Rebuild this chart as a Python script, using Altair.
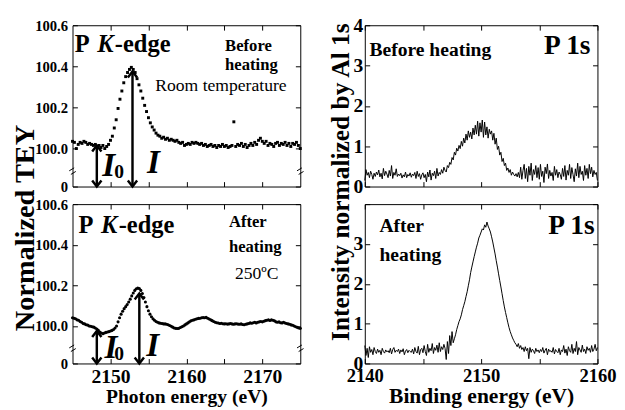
import altair as alt
import pandas as pd

FONT = "Liberation Serif"

# ---------------- data ----------------
# P K-edge TEY, before heating: 0.25 eV steps from 2145 eV
tey_before_start, tey_before_step = 2145.0, 0.25
tey_before = [
    100.035, 100.030, 100.000, 100.020, 100.030, 100.025, 100.035, 100.030,
    100.020, 100.025, 100.020, 100.015, 100.020, 100.010, 100.015, 100.005,
    100.015, 100.000, 100.010, 100.020, 100.040, 100.060, 100.100, 100.140,
    100.195, 100.240, 100.280, 100.320, 100.350, 100.370, 100.385, 100.395,
    100.385, 100.370, 100.340, 100.310, 100.280, 100.245, 100.210, 100.180,
    100.150, 100.125, 100.105, 100.090, 100.075, 100.065, 100.060, 100.050,
    100.055, 100.045, 100.050, 100.040, 100.045, 100.040, 100.035, 100.040,
    100.030, 100.025, 100.030, 100.015, 100.020, 100.025, 100.020, 100.030,
    100.025, 100.030, 100.025, 100.020, 100.025, 100.015, 100.020, 100.010,
    100.015, 100.020, 100.010, 100.015, 100.005, 100.015, 100.010, 100.020,
    100.010, 100.015, 100.005, 100.010, 100.015, 100.130, 100.010, 100.020,
    100.015, 100.025, 100.010, 100.020, 100.005, 100.015, 100.025, 100.015,
    100.030, 100.020, 100.040, 100.050, 100.035, 100.025, 100.035, 100.015,
    100.025, 100.020, 100.010, 100.025, 100.030, 100.015, 100.025, 100.020,
    100.030, 100.015, 100.025, 100.010, 100.025, 100.020, 100.030, 100.015,
    100.000,
]

# P K-edge TEY, after heating (250 C): 0.2 eV steps from 2145 eV
tey_after_start, tey_after_step = 2145.0, 0.2
tey_after = [
    100.040, 100.038, 100.035, 100.030, 100.028, 100.022, 100.018, 100.012, 100.010, 100.006,
    100.004, 100.000, 99.998, 99.996, 99.994, 99.990, 99.985, 99.978, 99.970, 99.965,
    99.962, 99.965, 99.968, 99.970, 99.972, 99.975, 99.978, 99.982, 99.990, 100.000,
    100.020, 100.040, 100.058, 100.072, 100.085, 100.095, 100.105, 100.118, 100.132, 100.148,
    100.162, 100.175, 100.183, 100.186, 100.184, 100.175, 100.160, 100.140, 100.118, 100.095,
    100.075, 100.058, 100.045, 100.035, 100.028, 100.022, 100.018, 100.015, 100.013, 100.012,
    100.010, 100.010, 100.008, 100.006, 100.002, 99.998, 99.994, 99.990, 99.988, 99.987,
    99.988, 99.992, 99.996, 100.000, 100.005, 100.010, 100.015, 100.020, 100.025, 100.028,
    100.030, 100.033, 100.035, 100.037, 100.038, 100.040, 100.041, 100.040, 100.042, 100.038,
    100.034, 100.030, 100.026, 100.022, 100.018, 100.016, 100.014, 100.012, 100.013, 100.011,
    100.010, 100.011, 100.009, 100.010, 100.012, 100.010, 100.008, 100.010, 100.011, 100.009,
    100.008, 100.010, 100.007, 100.006, 100.008, 100.010, 100.012, 100.015, 100.013, 100.016,
    100.018, 100.015, 100.018, 100.020, 100.022, 100.020, 100.023, 100.026, 100.028, 100.030,
    100.027, 100.030, 100.028, 100.025, 100.020, 100.018, 100.020, 100.016, 100.015, 100.018,
    100.014, 100.012, 100.010, 100.008, 100.005, 100.003, 100.000, 99.996, 99.993, 99.990,
    99.988,
]

# P 1s XPS intensity normalized by Al 1s: 0.1 eV steps from 2140 eV
xps_start, xps_step = 2140.0, 0.1
xps_before = [
    0.15, 0.42, 0.28, 0.35, 0.22, 0.38, 0.30, 0.18, 0.33, 0.25,
    0.36, 0.29, 0.41, 0.24, 0.33, 0.19, 0.45, 0.27, 0.38, 0.31,
    0.22, 0.40, 0.26, 0.52, 0.20, 0.35, 0.28, 0.44, 0.25, 0.31,
    0.27, 0.33, 0.21, 0.29, 0.24, 0.36, 0.22, 0.30, 0.26, 0.34,
    0.23, 0.31, 0.27, 0.35, 0.20, 0.38, 0.25, 0.32, 0.18, 0.29,
    0.34, 0.22, 0.30, 0.12, 0.36, 0.24, 0.41, 0.16, 0.33, 0.27,
    0.38, 0.20, 0.45, 0.26, 0.35, 0.30, 0.42, 0.33, 0.48, 0.40,
    0.36, 0.52, 0.47, 0.60, 0.55, 0.72, 0.66, 0.85, 0.78, 0.95,
    0.88, 1.02, 0.94, 1.12, 1.00, 1.20, 1.08, 1.30, 1.15, 1.38,
    1.22, 1.35, 1.18, 1.45, 1.28, 1.52, 1.30, 1.62, 1.25, 1.58,
    1.35, 1.65, 1.22, 1.60, 1.28, 1.48, 1.20, 1.42, 1.30, 1.38,
    1.15, 1.32, 1.05, 1.20, 0.92, 1.00, 0.78, 0.85, 0.62, 0.70,
    0.52, 0.58, 0.40, 0.46, 0.35, 0.42, 0.28, 0.36, 0.30, 0.26,
    0.32, 0.24, 0.35, 0.22, 0.48, 0.18, 0.40, 0.55, 0.20, 0.45,
    0.12, 0.50, 0.28, 0.58, 0.15, 0.42, 0.30, 0.52, 0.22, 0.47,
    0.18, 0.55, 0.25, 0.38, 0.10, 0.48, 0.32, 0.56, 0.20, 0.40,
    0.26, 0.35, 0.15, 0.50, 0.28, 0.42, 0.22, 0.36, 0.30, 0.18,
    0.45, 0.25, 0.52, 0.16, 0.40, 0.28, 0.55, 0.20, 0.47, 0.30,
    0.12, 0.44, 0.26, 0.58, 0.22, 0.50, 0.30, 0.38, 0.15, 0.52,
    0.28, 0.45, 0.20, 0.55, 0.32, 0.48, 0.24, 0.40, 0.30, 0.35,
    0.15,
]
xps_after = [
    0.45, 0.20, 0.38, 0.15, 0.42, 0.28, 0.35, 0.22, 0.40, 0.30,
    0.25, 0.36, 0.28, 0.33, 0.22, 0.38, 0.30, 0.26, 0.34, 0.29,
    0.32, 0.27, 0.38, 0.24, 0.35, 0.40, 0.28, 0.33, 0.30, 0.36,
    0.25, 0.34, 0.29, 0.37, 0.22, 0.31, 0.35, 0.27, 0.33, 0.30,
    0.28, 0.36, 0.24, 0.40, 0.30, 0.26, 0.43, 0.22, 0.35, 0.38,
    0.27, 0.45, 0.30, 0.20, 0.48, 0.28, 0.38, 0.32, 0.50, 0.25,
    0.40, 0.33, 0.46, 0.28, 0.52, 0.30, 0.42, 0.35, 0.48, 0.38,
    0.10, 0.55, 0.25, 0.70, 0.45, 0.80, 0.52, 0.62, 0.72, 0.85,
    0.95, 1.05, 1.12, 1.22, 1.35, 1.45, 1.55, 1.68, 1.80, 1.95,
    2.10, 2.28, 2.42, 2.55, 2.68, 2.80, 2.92, 3.02, 3.15, 3.22,
    3.30, 3.38, 3.35, 3.48, 3.42, 3.55, 3.45, 3.38, 3.30, 3.18,
    3.05, 2.90, 2.75, 2.58, 2.42, 2.25, 2.08, 1.92, 1.75, 1.58,
    1.42, 1.28, 1.15, 1.02, 0.90, 0.80, 0.72, 0.64, 0.58, 0.52,
    0.48, 0.42, 0.50, 0.38, 0.45, 0.35, 0.40, 0.30, 0.42, 0.32,
    0.38, 0.12, 0.40, 0.28, 0.36, 0.32, 0.25, 0.38, 0.30, 0.34,
    0.27, 0.35, 0.30, 0.40, 0.26, 0.33, 0.38, 0.22, 0.36, 0.30,
    0.32, 0.28, 0.40, 0.24, 0.35, 0.30, 0.27, 0.38, 0.22, 0.34,
    0.30, 0.45, 0.26, 0.36, 0.20, 0.42, 0.32, 0.28, 0.48, 0.25,
    0.38, 0.30, 0.55, 0.22, 0.40, 0.34, 0.28, 0.46, 0.30, 0.36,
    0.25, 0.42, 0.33, 0.38, 0.28, 0.45, 0.30, 0.36, 0.48, 0.32,
    0.40,
]

# I0 / I arrows (energy, top of arrow)
arrows_before_x = [2148.2, 2152.9]
arrows_before_top = [100.015, 100.375]
arrows_after_x = [2148.2, 2153.8]
arrows_after_top = [99.975, 100.16]

# the broken TEY axis: this level is drawn and labelled as "0"
Y_ZERO = 99.815
tey_ticks = [Y_ZERO, 100.0, 100.2, 100.4, 100.6]
pk_ticks = [2150, 2155, 2160, 2165, 2170]
xps_xticks = [2140, 2145, 2150, 2155, 2160]
xps_yticks = [0, 1, 2, 3, 4]

# ---------------- helpers ----------------
LW, RW, TH, BH = 233, 238, 165, 163
AX = dict(labelFont=FONT, titleFont=FONT, labelFontWeight="bold", titleFontWeight="bold",
          labelColor="black", titleColor="black", tickColor="black", tickWidth=1,
          domain=False, grid=False)


def series(start, step, values, col):
    return pd.DataFrame({"E": [start + step * i for i in range(len(values))], col: values})


def txt(rows, xs, ys, size, weight="bold", style="normal", align="left", dx=0):
    df = pd.DataFrame(rows, columns=["x", "y", "t"])
    return alt.Chart(df).mark_text(
        font=FONT, fontSize=size, fontWeight=weight, fontStyle=style,
        align=align, baseline="alphabetic", dx=dx, color="black"
    ).encode(
        x=alt.X("x:Q", scale=xs, axis=None),
        y=alt.Y("y:Q", scale=ys, axis=None),
        text="t:N",
    )


CHEV_DOWN = "M-1,-1.3L0,0L1,-1.3"
CHEV_UP = "M-1,1.3L0,0L1,1.3"
BREAK = "M-1,-0.1L0.5,-1M-0.5,1L1,0.1"


def xanes(values, start, step, arrows_x, arrows_top, bottom, notes, title_parts,
          i_labels, dot_mark, y_title):
    xs = alt.Scale(domain=[2145, 2175], nice=False, zero=False)
    ys = alt.Scale(domain=[Y_ZERO, 100.6], nice=False, zero=False)
    df = series(start, step, values, "TEY")

    x_axis = alt.Axis(
        orient="bottom", values=pk_ticks, labels=bottom,
        labelExpr="datum.value % 10 === 0 ? format(datum.value, 'd') : ''",
        offset=-5, tickSize=5, labelFontSize=20, labelPadding=3,
        labelFlush=False, labelOverlap=False,
        title="Photon energy (eV)" if bottom else None,
        titleFontSize=20, titlePadding=1, **AX,
    )
    y_kw = dict(
        orient="left", values=tey_ticks,
        labelExpr="datum.value < 99.9 ? '0' : format(datum.value, '.1f')",
        offset=-5, tickSize=5, labelFontSize=15, labelPadding=5,
        labelFlush=False, labelOverlap=False, **AX,
    )
    if y_title:
        y_axis = alt.Axis(title="Normalized TEY", titleFontSize=29, titleY=207,
                          titlePadding=-5, **y_kw)
    else:
        y_axis = alt.Axis(title=None, **y_kw)

    if dot_mark == "square":
        dots = alt.Chart(df).mark_square(size=9, color="black", opacity=1)
    else:
        dots = alt.Chart(df).mark_circle(size=10, color="black", opacity=1)
    dots = dots.encode(
        x=alt.X("E:Q", scale=xs, axis=x_axis),
        y=alt.Y("TEY:Q", scale=ys, axis=y_axis),
    )

    adf = pd.DataFrame({"x": arrows_x, "top": arrows_top, "base": [Y_ZERO] * len(arrows_x)})
    rules = alt.Chart(adf).mark_rule(color="black", strokeWidth=2.5).encode(
        x=alt.X("x:Q", scale=xs, axis=alt.Axis(
            orient="top", values=pk_ticks, labels=False, offset=-5, tickSize=5,
            title=None, **AX)),
        y=alt.Y("top:Q", scale=ys, axis=alt.Axis(
            orient="right", values=tey_ticks, labels=False, offset=-5, tickSize=5,
            title=None, **AX)),
        y2="base:Q",
    )
    head_dn = alt.Chart(adf).mark_point(
        shape=CHEV_DOWN, size=90, filled=False, stroke="black", strokeWidth=2.5, opacity=1
    ).encode(x=alt.X("x:Q", scale=xs, axis=None), y=alt.Y("base:Q", scale=ys, axis=None))
    head_up = alt.Chart(adf).mark_point(
        shape=CHEV_UP, size=90, filled=False, stroke="black", strokeWidth=2.5, opacity=1
    ).encode(x=alt.X("x:Q", scale=xs, axis=None), y=alt.Y("top:Q", scale=ys, axis=None))

    bdf = pd.DataFrame({"x": [2145, 2175], "y": [99.89, 99.89]})
    breaks = alt.Chart(bdf).mark_point(
        shape=BREAK, size=45, filled=False, stroke="black", strokeWidth=1, opacity=1
    ).encode(x=alt.X("x:Q", scale=xs, axis=None), y=alt.Y("y:Q", scale=ys, axis=None))

    tx, ty = title_parts
    layers = [
        dots, rules, head_dn, head_up, breaks,
        txt([(tx, ty, "P")], xs, ys, 25),
        txt([(tx, ty, "K")], xs, ys, 25, style="italic", dx=23),
        txt([(tx, ty, "-edge")], xs, ys, 25, dx=41),
    ]
    for rows, size, weight in notes:
        layers.append(txt(rows, xs, ys, size, weight=weight))
    (i0x, i0y), (subx, suby), (ix, iy) = i_labels
    layers.append(txt([(i0x, i0y, "I"), (ix, iy, "I")], xs, ys, 34, style="italic"))
    layers.append(txt([(subx, suby, "0")], xs, ys, 20))
    return alt.layer(*layers).properties(width=LW, height=TH if not bottom else BH)


def xps(values, bottom, notes, y_title, label_expr):
    xs = alt.Scale(domain=[2140, 2160], nice=False, zero=False)
    ys = alt.Scale(domain=[0, 4], nice=False, zero=False)
    df = series(xps_start, xps_step, values, "I")
    x_axis = alt.Axis(
        orient="bottom", values=xps_xticks, labels=bottom,
        labelExpr="datum.value % 10 === 0 ? format(datum.value, 'd') : ''",
        offset=-5, tickSize=5, labelFontSize=19, labelPadding=3,
        labelFlush=False, labelOverlap=False,
        title="Binding energy (eV)" if bottom else None,
        titleFontSize=22, titlePadding=1, **AX,
    )
    y_kw = dict(
        orient="left", values=xps_yticks, labelExpr=label_expr,
        offset=-5, tickSize=5, labelFontSize=20, labelPadding=2,
        labelFlush=False, labelOverlap=False, **AX,
    )
    if y_title:
        y_axis = alt.Axis(title="Intensity normalized by Al 1s", titleFontSize=26,
                          titleY=160, titlePadding=0, **y_kw)
    else:
        y_axis = alt.Axis(title=None, **y_kw)
    line = alt.Chart(df).mark_line(color="black", strokeWidth=1).encode(
        x=alt.X("E:Q", scale=xs, axis=x_axis),
        y=alt.Y("I:Q", scale=ys, axis=y_axis),
    )
    (p_rows, p_size), rest = notes[0], notes[1:]
    pdf = pd.DataFrame(p_rows, columns=["x", "y", "t"])
    p1s = alt.Chart(pdf).mark_text(
        font=FONT, fontSize=p_size, fontWeight="bold", align="right",
        baseline="alphabetic", color="black"
    ).encode(
        x=alt.X("x:Q", scale=xs, axis=alt.Axis(
            orient="top", values=xps_xticks, labels=False, offset=-5, tickSize=5,
            title=None, **AX)),
        y=alt.Y("y:Q", scale=ys, axis=alt.Axis(
            orient="right", values=xps_yticks, labels=False, offset=-5, tickSize=5,
            title=None, **AX)),
        text="t:N",
    )
    layers = [line, p1s]
    for rows, size in rest:
        layers.append(txt(rows, xs, ys, size))
    return alt.layer(*layers).properties(width=RW, height=TH if not bottom else BH)


tl = xanes(
    tey_before, tey_before_start, tey_before_step, arrows_before_x, arrows_before_top,
    False,
    [([(2165.1, 100.474, "Before"), (2165.1, 100.382, "heating")], 17, "bold"),
     ([(2155.9, 100.281, "Room temperature")], 18, "normal")],
    (2145.3, 100.47),
    [(2148.9, 99.864), (2150.5, 99.855), (2154.8, 99.88)],
    "square", True,
)
bl = xanes(
    tey_after, tey_after_start, tey_after_step, arrows_after_x, arrows_after_top,
    True,
    [([(2165.6, 100.487, "After"), (2165.6, 100.364, "heating")], 17, "bold"),
     ([(2166.4, 100.231, "250ºC")], 18, "normal")],
    (2145.8, 100.459),
    [(2149.2, 99.843), (2150.5, 99.83), (2154.7, 99.85)],
    "circle", False,
)
tr = xps(
    xps_before, False,
    [([(2159.4, 3.28, "P 1s")], 28),
     ([(2140.4, 3.23, "Before heating")], 20)],
    True, "format(datum.value, 'd')",
)
br = xps(
    xps_after, True,
    [([(2159.75, 3.24, "P 1s")], 28),
     ([(2141.26, 3.29, "After"), (2141.26, 2.56, "heating")], 20)],
    False, "datum.value < 4 ? format(datum.value, 'd') : ''",
)

chart = alt.concat(
    tl, tr, bl, br, columns=2,
    spacing={"row": 18, "column": 66},
    bounds="flush", align="each",
).properties(
    padding={"left": 2, "top": 2, "right": 0, "bottom": 0},
    background="white",
).configure(
    font=FONT,
).configure_view(
    stroke="black", strokeWidth=1
)

chart.save("out.html", embed_options={"renderer": "svg", "actions": False})
